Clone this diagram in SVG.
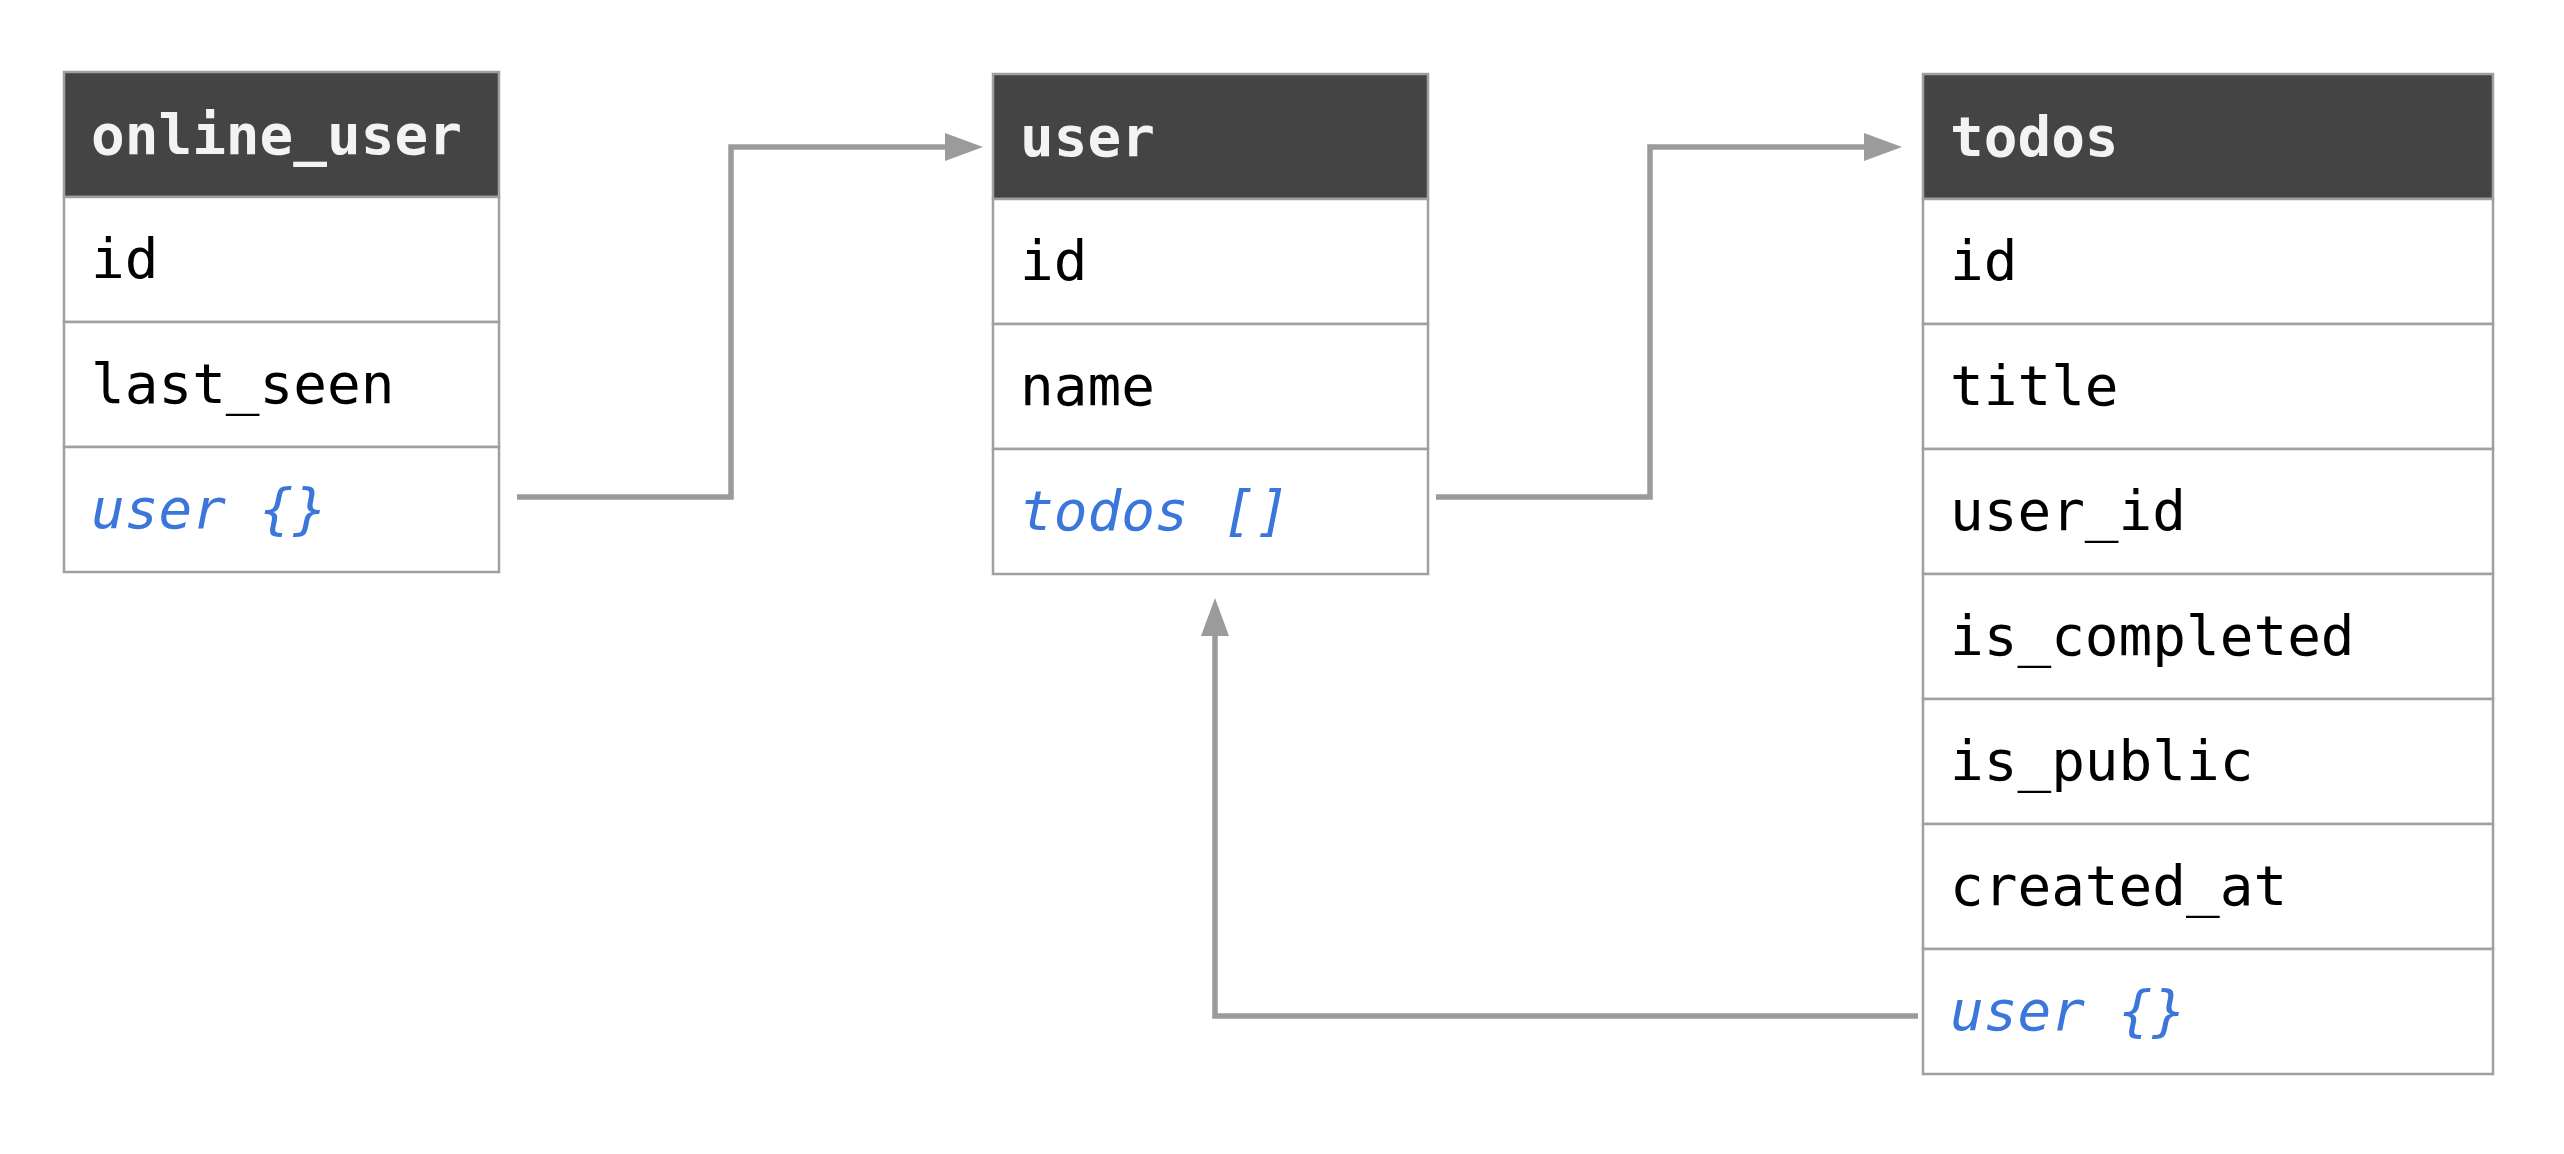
<svg xmlns="http://www.w3.org/2000/svg" width="2564" height="1154" viewBox="0 0 2564 1154">
<style>
.bg{fill:#ffffff}
.hdr{fill:#444444;stroke:#a0a0a0;stroke-width:2.5}
.cell{fill:#ffffff;stroke:#a0a0a0;stroke-width:2.5}
.ht{font-family:"DejaVu Sans Mono","Liberation Mono",monospace;font-size:56px;font-weight:bold;fill:#f3f3f3}
.ft{font-family:"DejaVu Sans Mono","Liberation Mono",monospace;font-size:56px;fill:#000000}
.rt{font-family:"DejaVu Sans Mono","Liberation Mono",monospace;font-size:56px;font-style:italic;fill:#3b76db}
.conn{fill:none;stroke:#9b9b9b;stroke-width:5.5;marker-end:url(#arr)}
</style>
<defs>
<marker id="arr" viewBox="0 0 38 28" refX="0" refY="14" markerWidth="38" markerHeight="28" markerUnits="userSpaceOnUse" orient="auto">
<path d="M0,0 L38,14 L0,28 z" fill="#9b9b9b"/>
</marker>
</defs>
<rect class="bg" x="0" y="0" width="2564" height="1154"/>

<g id="online_user">
<rect class="hdr" x="64" y="72" width="435" height="125"/>
<text class="ht" x="91" y="154">online_user</text>
<rect class="cell" x="64" y="197" width="435" height="125"/>
<text class="ft" x="91" y="278">id</text>
<rect class="cell" x="64" y="322" width="435" height="125"/>
<text class="ft" x="91" y="403">last_seen</text>
<rect class="cell" x="64" y="447" width="435" height="125"/>
<text class="rt" x="91" y="528">user {}</text>
</g>

<g id="user">
<rect class="hdr" x="993" y="74" width="435" height="125"/>
<text class="ht" x="1020" y="156">user</text>
<rect class="cell" x="993" y="199" width="435" height="125"/>
<text class="ft" x="1020" y="280">id</text>
<rect class="cell" x="993" y="324" width="435" height="125"/>
<text class="ft" x="1020" y="405">name</text>
<rect class="cell" x="993" y="449" width="435" height="125"/>
<text class="rt" x="1020" y="530">todos []</text>
</g>

<g id="todos">
<rect class="hdr" x="1923" y="74" width="570" height="125"/>
<text class="ht" x="1950" y="156">todos</text>
<rect class="cell" x="1923" y="199" width="570" height="125"/>
<text class="ft" x="1950" y="280">id</text>
<rect class="cell" x="1923" y="324" width="570" height="125"/>
<text class="ft" x="1950" y="405">title</text>
<rect class="cell" x="1923" y="449" width="570" height="125"/>
<text class="ft" x="1950" y="530">user_id</text>
<rect class="cell" x="1923" y="574" width="570" height="125"/>
<text class="ft" x="1950" y="655">is_completed</text>
<rect class="cell" x="1923" y="699" width="570" height="125"/>
<text class="ft" x="1950" y="780">is_public</text>
<rect class="cell" x="1923" y="824" width="570" height="125"/>
<text class="ft" x="1950" y="905">created_at</text>
<rect class="cell" x="1923" y="949" width="570" height="125"/>
<text class="rt" x="1950" y="1030">user {}</text>
</g>

<g id="connectors">
<path class="conn" d="M517,497 H731 V147 H945"/>
<path class="conn" d="M1436,497 H1650 V147 H1864"/>
<path class="conn" d="M1918,1016 H1215 V636"/>
</g>
</svg>
